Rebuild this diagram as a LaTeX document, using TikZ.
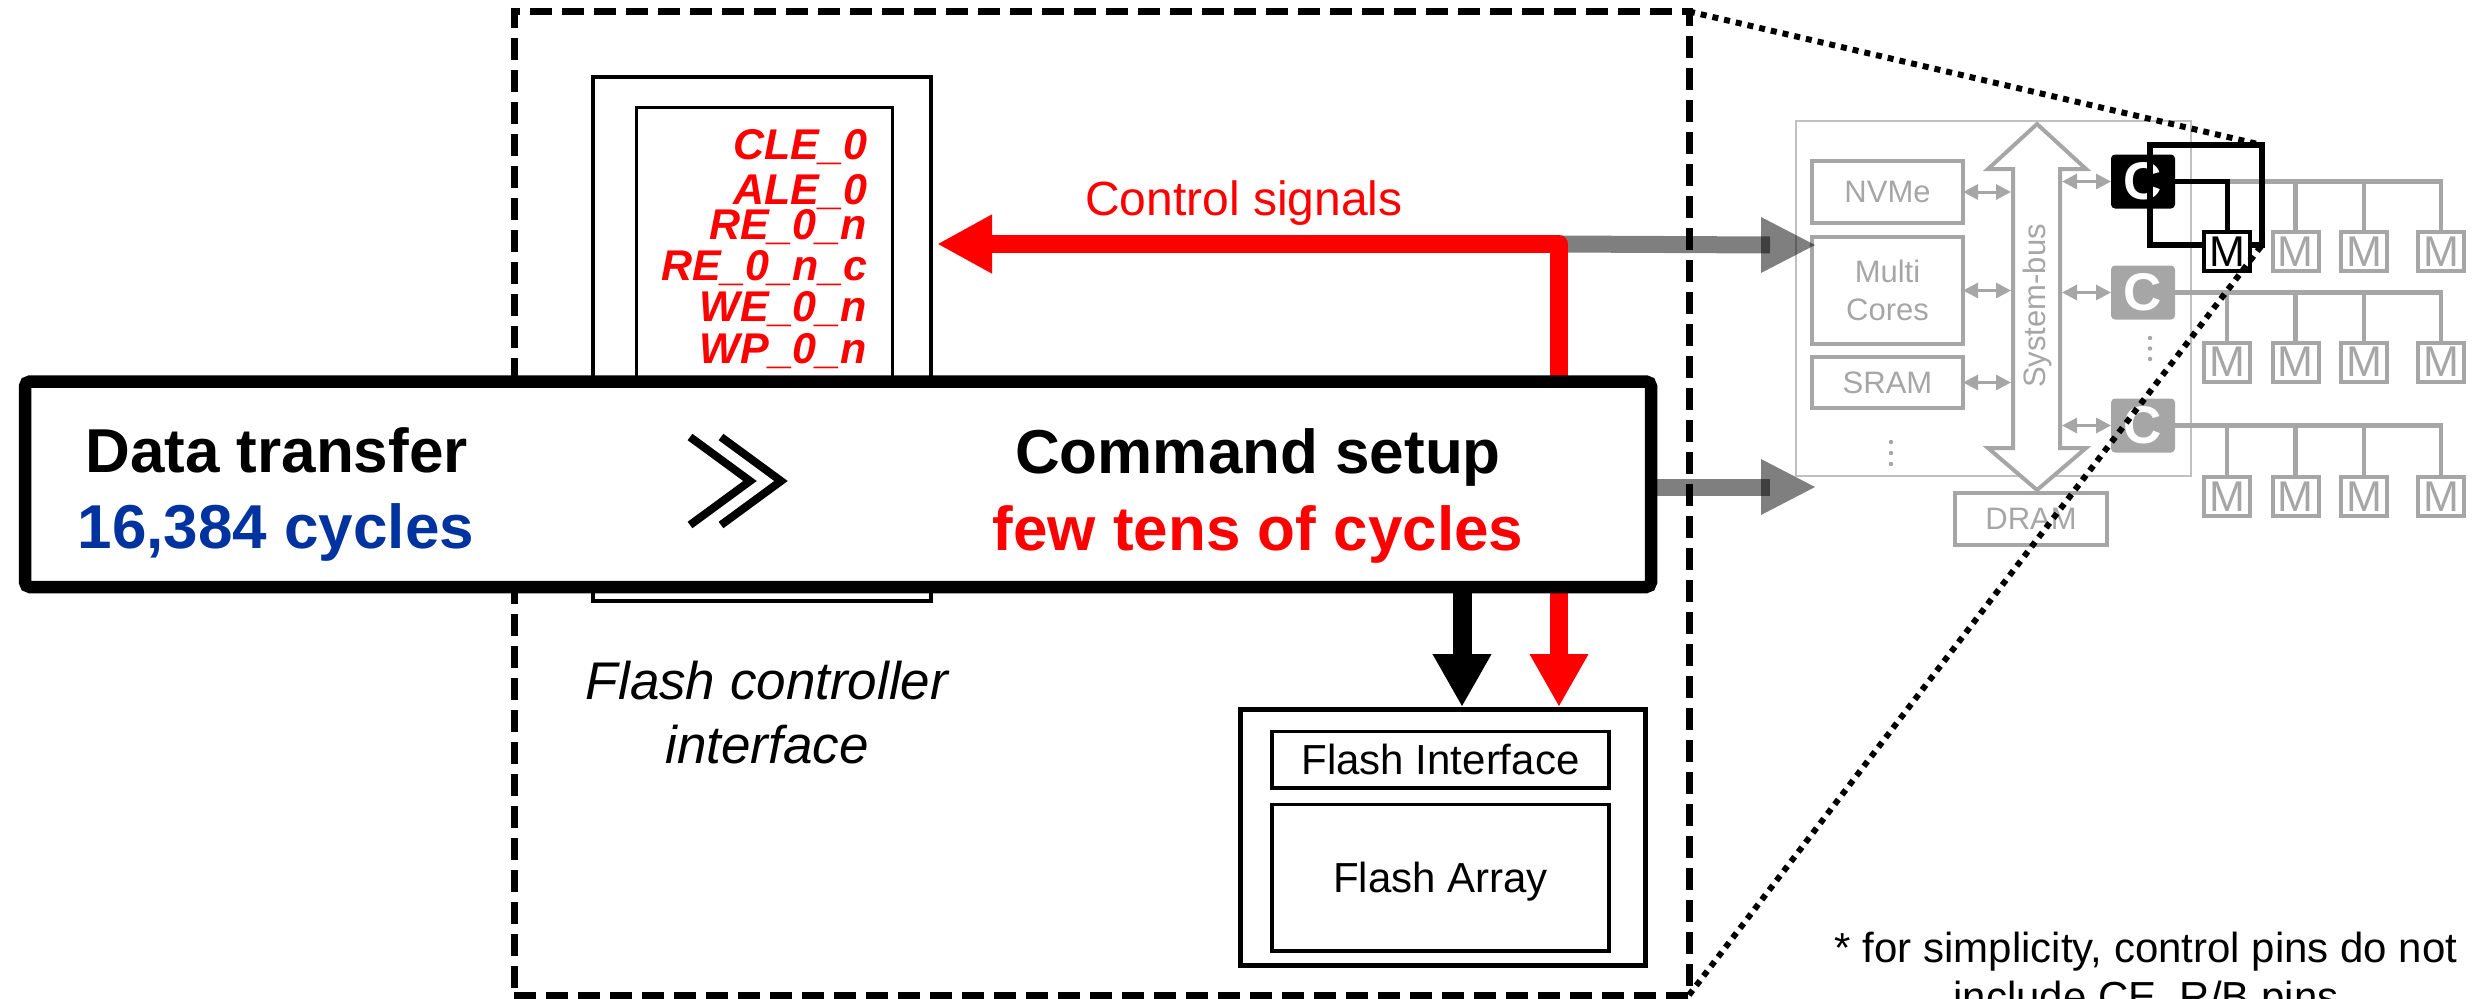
\documentclass[tikz,border=0pt]{standalone}
\usepackage{fontspec}
\setmainfont{Liberation Sans}
\usetikzlibrary{arrows.meta}

\definecolor{sigred}{RGB}{255,0,0}
\definecolor{cycblue}{RGB}{0,51,160}
\definecolor{ssdgray}{RGB}{166,166,166}
\definecolor{ssdframe}{RGB}{192,192,192}

\newcommand{\fsz}[1]{\fontsize{#1}{#1}\selectfont}

\tikzset{
  every node/.style={inner sep=0pt, outer sep=0pt},
  dashframe/.style={draw, line width=7pt, dash pattern=on 22pt off 10pt},
  dotline/.style={draw, line width=6pt, dash pattern=on 6pt off 6pt},
  ssdbox/.style={draw=ssdgray, line width=3.5pt, minimum width=151pt, text=ssdgray, font=\fsz{31}},
  ssdarrow/.style={ssdgray, line width=3pt, {Triangle[length=15pt,width=15pt]}-{Triangle[length=15pt,width=15pt]}},
  ssdline/.style={ssdgray, line width=4.5pt},
  cbox/.style={fill=ssdgray, rounded corners=4pt, minimum width=64pt, minimum height=54pt, text=white, font=\fsz{53}\bfseries},
  mbox/.style={draw=ssdgray, fill=white, line width=4pt, minimum width=46pt, minimum height=39pt, text=ssdgray, font=\fsz{43}},
  xferarrow/.style={black, opacity=0.5},
  sigline/.style={sigred, line width=18pt, line join=round,
    {Triangle[length=55pt,width=55pt]}-{Triangle[length=53pt,width=55pt]}},
  cmdarrow/.style={black, line width=19pt, -{Triangle[length=53pt,width=55pt]}},
  pin/.style={anchor=base east, text=sigred, font=\fsz{43}\bfseries\itshape},
  chev/.style={line width=8pt, line join=miter},
  fbox/.style={draw, line width=3.5pt, minimum width=337pt, font=\fsz{42}},
}

\begin{document}
\begin{tikzpicture}[x=1pt,y=-1pt]
\useasboundingbox (0,0) rectangle (2488,998);
\clip (0,0) rectangle (2488,998);

% enclosing dashed frame of the flash channel
\node[dashframe, minimum width=1175pt, minimum height=983.5pt] (frame) at (1101.5,503.25) {};

% ---------------- SSD overview (grey) ----------------
\node[draw=ssdframe, line width=2.5pt, minimum width=395pt, minimum height=355pt] (ssd) at (1993.5,298.5) {};
\node[ssdbox, minimum height=62pt] (nvme) at (1887.5,192) {NVMe};
\node[ssdbox, minimum height=107pt, align=center, font=\fontsize{31}{38}\selectfont] (cores) at (1887.5,290.5) {Multi\\Cores};
\node[ssdbox, minimum height=51pt] (sram) at (1887.5,382.5) {SRAM};
\node[ssdbox, minimum width=152pt, minimum height=52pt] (dram) at (2031,519) {DRAM};

% system bus double arrow
\draw[ssdgray, line width=4pt, fill=white, line join=miter]
  (2037,124) -- (2086,169) -- (2060,169) -- (2060,448) -- (2086,448) -- (2037,490)
  -- (1988,448) -- (2013,448) -- (2013,169) -- (1988,169) -- cycle;
\node[rotate=90, text=ssdgray, font=\fsz{31}] (bustext) at (2037,306) {System-bus};
\coordinate (busL) at (2011,300);
\coordinate (busR) at (2062,300);

\fill[ssdgray] (1891,442) circle (2.2) (1891,453) circle (2.2) (1891,464) circle (2.2);

% flash controllers
\node[cbox, fill=black] (c1) at (2143,181.5) {C};
\node[cbox] (c2) at (2143,292.5) {C};
\node[cbox] (c3) at (2143,425.5) {C};
\fill[ssdgray] (2150,338) circle (2.2) (2150,348.5) circle (2.2) (2150,359) circle (2.2);

\draw[ssdarrow] (nvme.east) -- (nvme.east -| busL);
\draw[ssdarrow] (cores.east) -- (cores.east -| busL);
\draw[ssdarrow] (sram.east) -- (sram.east -| busL);
\draw[ssdarrow] (c1.west -| busR) -- (c1.west);
\draw[ssdarrow] (c2.west -| busR) -- (c2.west);
\draw[ssdarrow] (c3.west -| busR) -- (c3.west);

% flash memory chips
\foreach \r/\y in {1/251.5, 2/362, 3/496.5}{
  \foreach \k/\x in {1/2227, 2/2295.5, 3/2364, 4/2441}{
    \coordinate (p\r\k) at (\x,\y);
  }
}
% channel wires
\draw[ssdline] (c1.east -| p11) -- (c1.east -| p14) -- ([yshift=20pt]p14);
\draw[ssdline] (c1.east -| p12) -- ([yshift=20pt]p12);
\draw[ssdline] (c1.east -| p13) -- ([yshift=20pt]p13);
\foreach \r in {2,3}{
  \draw[ssdline] (c\r.east) -- (c\r.east -| p\r4) -- ([yshift=20pt]p\r4);
  \foreach \k in {1,2,3}{
    \draw[ssdline] (c\r.east -| p\r\k) -- ([yshift=20pt]p\r\k);
  }
}
\draw[black, line width=5pt] (c1.east) -- (c1.east -| p11) -- ([yshift=20pt]p11);

% highlighted region
\node[draw, line width=6.5pt, minimum width=112pt, minimum height=100pt] (zoomrect) at (2206,195) {};

\foreach \r in {1,2,3}{
  \foreach \k in {1,2,3,4}{
    \node[mbox] (m\r\k) at (p\r\k) {M};
  }
}
\node[mbox, draw=black, text=black] (m11x) at (p11) {M};

% ---------------- transfers towards the SSD ----------------
\coordinate (sig) at (1559,244);
\coordinate (g1end) at (1770,245);
\coordinate (g2end) at (1770,487);
\draw[xferarrow, line width=17pt] (sig) -- (g1end);
\fill[xferarrow] (1761,217) -- (1815,245) -- (1761,273) -- cycle;

% ---------------- flash controller interface ----------------
\node[draw, line width=4.5pt, minimum width=338pt, minimum height=524pt] (fcio) at (762,339) {};
\node[draw, line width=3pt, minimum width=256pt, minimum height=478pt] (fcii) at (764,346) {};

\node[pin] (pin1) at (867,159) {CLE\_0};
\node[pin] (pin2) at (867,204) {ALE\_0};
\node[pin] (pin3) at (867,239) {RE\_0\_n};
\node[pin] (pin4) at (867,280) {RE\_0\_n\_c};
\node[pin] (pin5) at (867,321) {WE\_0\_n};
\node[pin] (pin6) at (867,363) {WP\_0\_n};

% flash chip
\node[draw, line width=5pt, minimum width=405pt, minimum height=256pt] (flash) at (1442.5,837) {};
\node[fbox, minimum height=56.5pt] (fif) at (1440.5,759.75) {Flash Interface};
\node[fbox, minimum height=146.5pt, text depth=0pt] (farr) at (1440.5,877.75) {Flash Array};

% control signals path
\node[anchor=base west, text=sigred, font=\fsz{48}] (ctrltext) at (1085,215) {Control signals};
\draw[sigline] ([xshift=6pt]fcio.east |- sig) -- (sig) -- ([yshift=2pt]sig |- flash.north);

% ---------------- comparison banner ----------------
\node[draw, fill=white, line width=12.5pt, rounded corners=5pt, minimum width=1626pt, minimum height=205.5pt] (bigbox) at (838,484.25) {};
\node[anchor=base, font=\fsz{62}\bfseries] (dt) at (276.5,472) {Data transfer};
\node[anchor=base, font=\fsz{62}\bfseries, text=cycblue] (dtc) at (276,548) {16,384 cycles};
\node[anchor=base, font=\fsz{62}\bfseries] (cs) at (1258,473) {Command setup};
\node[anchor=base, font=\fsz{62}\bfseries, text=sigred] (csc) at (1258,550) {few tens of cycles};
\draw[chev] (690,437) -- (750,481) -- (690,525);
\draw[chev] (721,437) -- (781,481) -- (721,525);

\draw[xferarrow, line width=17pt] (bigbox.east |- g2end) -- (g2end);
\fill[xferarrow] (1761,459) -- (1815,487) -- (1761,515) -- cycle;

\coordinate (blk) at (1462,600);
\draw[cmdarrow] (bigbox.south -| blk) -- ([yshift=2pt]blk |- flash.north);

% captions
\node[anchor=base, font=\fsz{53}\itshape] (fcl1) at (767,699) {Flash controller};
\node[anchor=base, font=\fsz{53}\itshape] (fcl2) at (767,763) {interface};

\node[anchor=base, font=\fsz{42}] (note1) at (2146,962) {* for simplicity, control pins do not};
\node[anchor=base, font=\fsz{42}] (note2) at (2146,1011) {include CE, R/B pins};

% projection lines onto the highlighted region
\draw[dotline] (frame.north east) -- (zoomrect.north east);
\draw[dotline] (frame.south east) -- (zoomrect.south east);
\end{tikzpicture}
\end{document}
